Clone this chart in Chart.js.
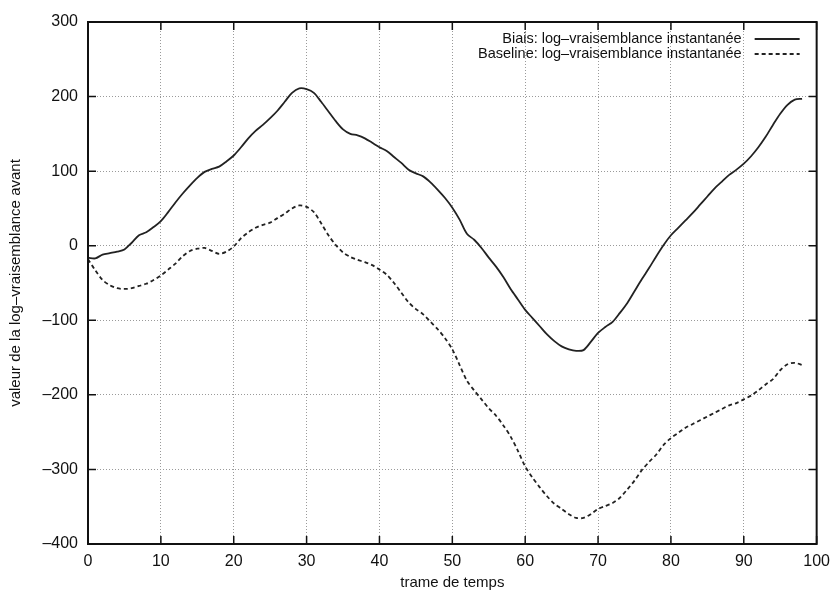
<!DOCTYPE html>
<html>
<head>
<meta charset="utf-8">
<script src="https://cdn.jsdelivr.net/npm/chart.js@4.4.1/dist/chart.umd.min.js"></script>
<style>
	html, body { margin: 0; padding: 0; background: #fff; }
	#wrap { width: 838px; height: 595px; position: relative; }
</style>
</head>
<body>
<div id="wrap"><canvas id="llChart"></canvas></div>
<script>
// trame de temps (x)
const frames = [
	0, 1, 2, 3, 4, 5, 6, 7, 8, 9,
	10, 11, 12, 13, 14, 15, 16, 17, 18, 19,
	20, 21, 22, 23, 24, 25, 26, 27, 28, 29,
	30, 31, 32, 33, 34, 35, 36, 37, 38, 39,
	40, 41, 42, 43, 44, 45, 46, 47, 48, 49,
	50, 51, 52, 53, 54, 55, 56, 57, 58, 59,
	60, 61, 62, 63, 64, 65, 66, 67, 68, 69,
	70, 71, 72, 73, 74, 75, 76, 77, 78, 79,
	80, 81, 82, 83, 84, 85, 86, 87, 88, 89,
	90, 91, 92, 93, 94, 95, 96, 97, 98
];

// Biais: log-vraisemblance instantanee
const biaisValues = [
	-16, -17, -12, -10, -8, -5, 4, 14, 18, 25,
	33, 45, 58, 70, 81, 91, 99, 103, 106, 113,
	121, 132, 144, 154, 162, 171, 181, 193, 205, 211,
	210, 205, 193, 180, 167, 156, 150, 148, 144, 138,
	132, 127, 119, 111, 102, 97, 93, 85, 75, 64,
	51, 35, 16, 8, -3, -16, -28, -42, -58, -72,
	-86, -97, -108, -119, -128, -135, -139, -141, -140, -129,
	-117, -109, -102, -90, -77, -61, -45, -30, -14, 1,
	14, 24, 34, 44, 55, 66, 77, 86, 95, 102,
	110, 120, 132, 146, 162, 177, 189, 196, 197
];

// Baseline: log-vraisemblance instantanee
const baselineValues = [
	-18, -33, -46, -53, -57, -58, -57, -54, -51, -46,
	-40, -32, -24, -14, -7, -4, -3, -7, -11, -8,
	-1, 10, 18, 24, 28, 31, 37, 43, 50, 54,
	52, 45, 30, 14, 1, -9, -15, -19, -22, -26,
	-32, -39, -50, -63, -76, -85, -92, -102, -112, -124,
	-139, -160, -181, -194, -206, -218, -228, -241, -256, -275,
	-296, -311, -324, -336, -346, -353, -360, -365, -365, -360,
	-353, -349, -345, -338, -327, -315, -301, -290, -280, -267,
	-258, -251, -244, -239, -234, -229, -224, -219, -214, -211,
	-206, -201, -194, -186, -179, -167, -159, -157, -160
];

const seriesLabels = ['Biais: log\u2013vraisemblance instantan\u00e9e', 'Baseline: log\u2013vraisemblance instantan\u00e9e'];
const xTicks = [0, 10, 20, 30, 40, 50, 60, 70, 80, 90, 100];
const yTicks = [-400, -300, -200, -100, 0, 100, 200, 300];

const FONT = "'Liberation Sans', Arial, Helvetica, sans-serif";
const INK = '#111';

function toPoints(values) {
	return values.map((v, i) => ({ x: frames[i], y: v }));
}

// gnuplot style frame: full border, inward ticks on all sides, legend with samples on the right
const gnuFrame = {
	id: 'gnuFrame',
	afterDatasetsDraw(chart) {
		const ctx = chart.ctx;
		const a = chart.chartArea;
		const xs = chart.scales.x;
		const ys = chart.scales.y;
		const tl = 8;
		ctx.save();
		ctx.strokeStyle = INK;
		ctx.lineWidth = 2;
		ctx.setLineDash([]);
		ctx.strokeRect(a.left, a.top, a.right - a.left, a.bottom - a.top);
		ctx.lineWidth = 1.5;
		ctx.beginPath();
		xTicks.forEach(t => {
			const px = xs.getPixelForValue(t);
			ctx.moveTo(px, a.bottom); ctx.lineTo(px, a.bottom - tl);
			ctx.moveTo(px, a.top); ctx.lineTo(px, a.top + tl);
		});
		yTicks.forEach(t => {
			const py = ys.getPixelForValue(t);
			ctx.moveTo(a.left, py); ctx.lineTo(a.left + tl, py);
			ctx.moveTo(a.right, py); ctx.lineTo(a.right - tl, py);
		});
		ctx.stroke();

		// legend
		ctx.font = '14.5px ' + FONT;
		ctx.fillStyle = INK;
		ctx.textAlign = 'right';
		ctx.textBaseline = 'middle';
		const textRight = a.right - 75;
		chart.data.datasets.forEach((ds, i) => {
			const y = a.top + 17 + i * 15;
			ctx.fillText(ds.label, textRight, y);
			ctx.strokeStyle = ds.borderColor;
			ctx.lineWidth = ds.borderWidth;
			ctx.setLineDash(ds.borderDash || []);
			ctx.beginPath();
			ctx.moveTo(textRight + 13, y);
			ctx.lineTo(textRight + 58, y);
			ctx.stroke();
		});
		ctx.restore();
	}
};

const ctx = document.getElementById('llChart').getContext('2d');
const myChart = new Chart(ctx, {
	type: 'line',
	data: {
		datasets: [
			{
				label: seriesLabels[0],
				data: toPoints(biaisValues),
				borderColor: '#222',
				borderWidth: 1.8,
				pointRadius: 0,
				tension: 0.3,
				fill: false
			},
			{
				label: seriesLabels[1],
				data: toPoints(baselineValues),
				borderColor: '#222',
				borderWidth: 1.8,
				borderDash: [4, 3],
				pointRadius: 0,
				tension: 0.3,
				fill: false
			}
		]
	},
	options: {
		responsive: true,
		maintainAspectRatio: false,
		animation: false,
		layout: {
			padding: { left: 0, right: 17, top: 22, bottom: 0 }
		},
		plugins: {
			legend: { display: false },
			tooltip: { enabled: false }
		},
		scales: {
			x: {
				type: 'linear',
				min: 0,
				max: 100,
				afterBuildTicks: axis => { axis.ticks = xTicks.map(v => ({ value: v })); },
				afterFit: axis => { axis.height = 51; },
				grid: {
					color: '#9a9a9a',
					lineWidth: 1,
					drawTicks: false
				},
				border: { display: false, dash: [1, 2] },
				ticks: {
					color: INK,
					font: { family: FONT, size: 16 },
					padding: 8,
					maxRotation: 0
				},
				title: {
					display: true,
					text: 'trame de temps',
					color: INK,
					font: { family: FONT, size: 15 },
					padding: { top: 0, bottom: 3 }
				}
			},
			y: {
				type: 'linear',
				min: -400,
				max: 300,
				afterBuildTicks: axis => { axis.ticks = yTicks.map(v => ({ value: v })); },
				afterFit: axis => { axis.width = 88; },
				grid: {
					color: '#9a9a9a',
					lineWidth: 1,
					drawTicks: false
				},
				border: { display: false, dash: [1, 2] },
				ticks: {
					color: INK,
					font: { family: FONT, size: 16 },
					padding: 10,
					callback: v => String(v).replace('-', '\u2013')
				},
				title: {
					display: true,
					text: 'valeur de la log\u2013vraisemblance avant',
					color: INK,
					font: { family: FONT, size: 15 },
					padding: { top: 7, bottom: 0 }
				}
			}
		}
	},
	plugins: [gnuFrame]
});
</script>
</body>
</html>
